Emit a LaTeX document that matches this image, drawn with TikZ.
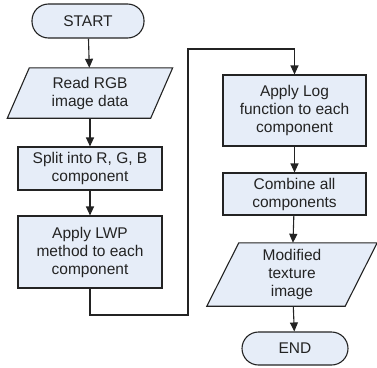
\documentclass[tikz,border=0pt]{standalone}
\usepackage{fontspec}
\setmainfont{Liberation Sans}
\usetikzlibrary{arrows.meta,backgrounds}
\definecolor{boxfill}{RGB}{230,237,248}
\definecolor{edgec}{RGB}{35,35,35}
\begin{document}
\begin{tikzpicture}[x=1pt,y=-1pt,
  every node/.style={font=\fontsize{15.5}{18}\selectfont, text=edgec, align=center, inner sep=0pt},
  box/.style={draw=edgec, fill=boxfill, line width=1.1pt},
  term/.style={box, rounded corners=16.5pt},
  paralabel/.style={},
  parashape/.style={draw=edgec, fill=boxfill, line width=1.1pt},
  arr/.style={draw=edgec, line width=1.1pt, -{Triangle[length=9pt,width=8pt]}},
  line/.style={draw=edgec, line width=1.1pt}]
\useasboundingbox (0,0) rectangle (377,367);
% left column
\node[term, minimum width=112pt, minimum height=34pt] (start) at (88,21) {START};
\node[paralabel, minimum width=165pt, minimum height=50pt] (read) at (90,93) {Read RGB\\image data};
\node[box, minimum width=144pt, minimum height=43pt] (split) at (90,168.5) {Split into R, G, B\\component};
\node[box, minimum width=144pt, minimum height=72pt] (lwp) at (90,252) {Apply LWP\\method to each\\component};
% right column
\node[box, minimum width=143pt, minimum height=71pt] (log) at (294.5,110.5) {Apply Log\\function to each\\component};
\node[box, minimum width=143pt, minimum height=42pt] (comb) at (294.5,194) {Combine all\\components};
\node[paralabel, minimum width=170pt, minimum height=63pt] (mod) at (292,274.5) {Modified\\texture\\image};
\node[term, minimum width=106pt, minimum height=33pt] (end) at (295,348.5) {END};
\begin{scope}[on background layer]
\draw[parashape] ([xshift=22pt]read.north west) -- (read.north east) -- ([xshift=-22pt]read.south east) -- (read.south west) -- cycle;
\draw[parashape] ([xshift=32pt]mod.north west) -- (mod.north east) -- ([xshift=-32pt]mod.south east) -- (mod.south west) -- cycle;
\end{scope}
\coordinate (c1) at (188,315);
\coordinate (c2) at (188,49);
\draw[arr] (start) -- (read);
\draw[arr] (read) -- (split);
\draw[arr] (split) -- (lwp);
\draw[arr] (lwp.south) -- (lwp.south |- c1) -- (c1) -- (c2) -- (c2 -| log.north) -- (log.north);
\draw[arr] (log) -- (comb);
\draw[arr] (comb) -- (mod);
\draw[arr] (mod) -- (end);
\end{tikzpicture}
\end{document}
